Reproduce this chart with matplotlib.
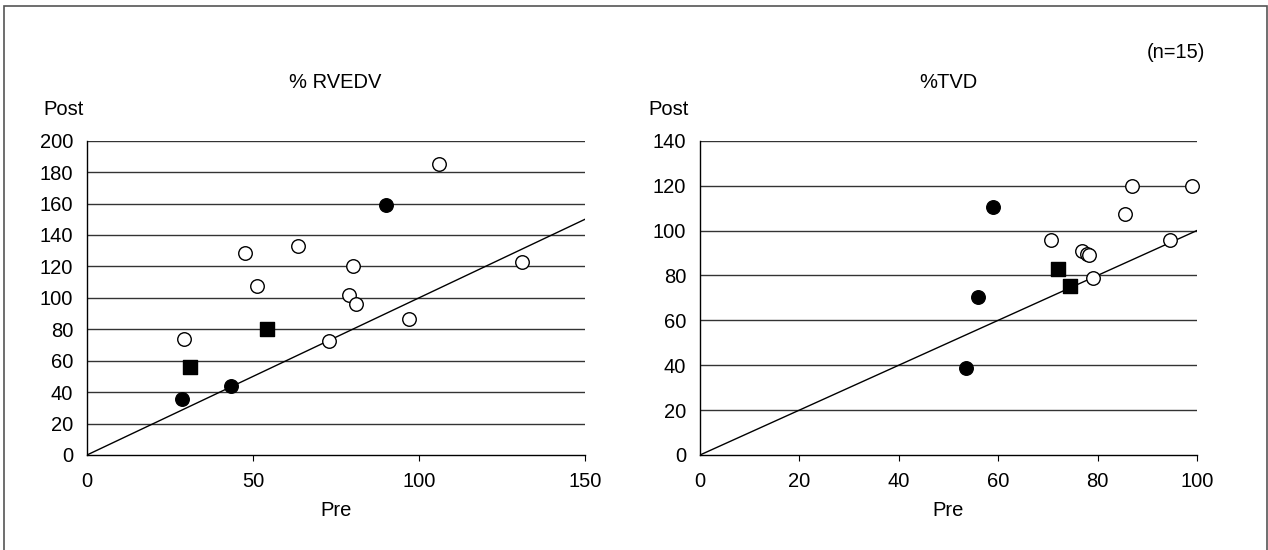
import matplotlib
matplotlib.use("Agg")
import matplotlib.pyplot as plt
from matplotlib.patches import Rectangle

plt.rcParams['font.family'] = ['Liberation Sans', 'DejaVu Sans']

# ---- Data: % RVEDV ----
rvedv_open_pre = [106.0, 47.5, 63.5, 80.1, 51.2, 78.8, 80.9, 97.1, 72.9, 29.1, 131.1]
rvedv_open_post = [185.2, 128.7, 132.7, 120.2, 107.3, 101.6, 96.3, 86.3, 72.8, 73.9, 122.5]
rvedv_fill_pre = [90.2, 43.5, 28.7]
rvedv_fill_post = [159.2, 44.0, 35.8]
rvedv_sq_pre = [54.1, 30.9]
rvedv_sq_post = [80.4, 55.7]

# ---- Data: %TVD ----
tvd_open_pre = [86.9, 98.9, 85.6, 70.7, 94.5, 76.8, 77.8, 78.2, 79.0]
tvd_open_post = [120.0, 120.0, 107.5, 95.7, 95.7, 90.8, 89.5, 89.0, 79.0]
tvd_fill_pre = [59.0, 55.9, 53.6]
tvd_fill_post = [110.6, 70.2, 38.9]
tvd_sq_pre = [72.0, 74.4]
tvd_sq_post = [83.0, 75.4]

rvedv_yticks = list(range(0, 201, 20))
rvedv_xticks = [0, 50, 100, 150]
tvd_yticks = list(range(0, 141, 20))
tvd_xticks = [0, 20, 40, 60, 80, 100]

W, H = 1268, 550
fig = plt.figure(figsize=(W / 100, H / 100), dpi=100)

# outer border (no bottom edge visible in reference)
fig.patches.append(Rectangle((4 / W, -0.05), (1266.5 - 4) / W, 1.05 - 6 / H,
                             transform=fig.transFigure, fill=False,
                             edgecolor='#555555', linewidth=1.2))

FS = 14.5


def panel(rect, xlim, ylim, xticks, yticks, opre, opost, fpre, fpost, spre, spost):
    ax = fig.add_axes(rect)
    ax.set_xlim(*xlim)
    ax.set_ylim(*ylim)
    for s in ['top', 'right']:
        ax.spines[s].set_visible(False)
    for s in ['left', 'bottom']:
        ax.spines[s].set_color('black')
        ax.spines[s].set_linewidth(1.0)
    ax.set_xticks(xticks)
    ax.set_yticks(yticks)
    ax.tick_params(axis='y', length=0, labelsize=FS, pad=10)
    ax.tick_params(axis='x', length=4, direction='out', labelsize=FS, pad=8)
    ax.xaxis.get_major_ticks()[0].tick1line.set_visible(False)
    for yv in yticks[1:]:
        ax.axhline(yv, color='#333333', linewidth=1.0, zorder=1)
    ax.plot([0, xlim[1]], [0, xlim[1]], color='black', linewidth=1.0, zorder=2)
    ax.scatter(opre, opost, s=95, marker='o', facecolor='white', edgecolor='black',
               linewidth=1.0, zorder=3, clip_on=False)
    ax.scatter(fpre, fpost, s=95, marker='o', facecolor='black', edgecolor='black',
               linewidth=1.0, zorder=3, clip_on=False)
    ax.scatter(spre, spost, s=95, marker='s', facecolor='black', edgecolor='black',
               linewidth=1.0, zorder=3, clip_on=False)
    return ax


ax1 = panel([87 / W, (H - 455) / H, (585 - 87) / W, (455 - 140.7) / H],
            (0, 150), (0, 200), rvedv_xticks, rvedv_yticks,
            rvedv_open_pre, rvedv_open_post, rvedv_fill_pre, rvedv_fill_post,
            rvedv_sq_pre, rvedv_sq_post)
ax2 = panel([700 / W, (H - 455) / H, (1197 - 700) / W, (455 - 140.7) / H],
            (0, 100), (0, 140), tvd_xticks, tvd_yticks,
            tvd_open_pre, tvd_open_post, tvd_fill_pre, tvd_fill_post,
            tvd_sq_pre, tvd_sq_post)


def ftext(x, y, s, ha='center'):
    fig.text(x / W, 1 - y / H, s, ha=ha, va='center', fontsize=FS)


ftext(335, 82, '% RVEDV')
ftext(948, 82, '%TVD')
ftext(43, 109, 'Post', ha='left')
ftext(648, 109, 'Post', ha='left')
ftext(336, 510, 'Pre')
ftext(948, 510, 'Pre')
ftext(1205, 53, '(n=15)', ha='right')

fig.savefig('out.png', dpi=100)
